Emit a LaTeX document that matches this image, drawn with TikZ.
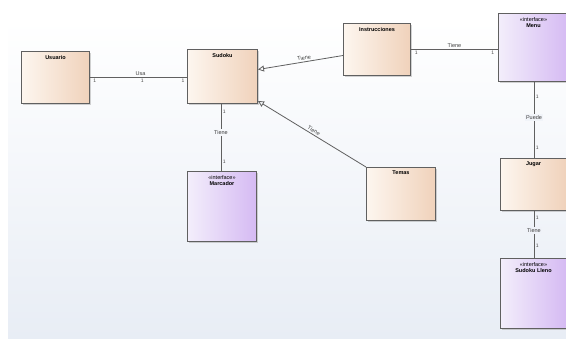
\documentclass[tikz,border=0pt]{standalone}
\usepackage{fontspec}
\setsansfont{Liberation Sans}
\usetikzlibrary{arrows.meta,shadows}
\definecolor{clasea}{HTML}{FDF6EF}
\definecolor{claseb}{HTML}{F0D2BB}
\definecolor{interfaza}{HTML}{F3EEFB}
\definecolor{interfazb}{HTML}{D5BAF3}
\definecolor{borde}{HTML}{606060}
\definecolor{fondo}{HTML}{E8EDF5}

\begin{document}
\begin{tikzpicture}[x=1pt, y=-1pt, font=\sffamily,
                    clase/.style={rectangle, anchor=north west, inner sep=0pt, draw=borde, line width=1pt, left color=clasea, right color=claseb, drop shadow={shadow xshift=1pt, shadow yshift=-1pt, fill=black!35}},
                    interfaz/.style={clase, left color=interfaza, right color=interfazb},
                    titulo/.style={anchor=north, yshift=-3pt, align=center, inner sep=1pt, font=\sffamily\fontsize{5.5}{6.2}\selectfont},
                    linea/.style={draw=borde, line width=0.8pt},
                    rotulo/.style={font=\sffamily\fontsize{5.5}{6}\selectfont, text=black!75, inner sep=1.5pt},
                    mult/.style={font=\sffamily\fontsize{5}{5.5}\selectfont, text=black!70, inner sep=1.5pt}]
        \useasboundingbox (0,0) rectangle (566,341);
        \fill[top color=white, bottom color=fondo] (8,20) rectangle (566,338);

        % clases
        \node (Usuario) [clase, minimum width=68, minimum height=52, label={[titulo]north:{\textbf{Usuario}}}] at (21,51) {};
        \node (Sudoku) [clase, minimum width=70, minimum height=54, label={[titulo]north:{\textbf{Sudoku}}}] at (187,49) {};
        \node (Instrucciones) [clase, minimum width=67, minimum height=52, label={[titulo]north:{\textbf{Instrucciones}}}] at (343,23) {};
        \node (Temas) [clase, minimum width=69, minimum height=53, label={[titulo]north:{\textbf{Temas}}}] at (366,167) {};
        \node (Jugar) [clase, minimum width=66, minimum height=52, label={[titulo]north:{\textbf{Jugar}}}] at (500,158) {};

        % interfaces
        \node (Marcador) [interfaz, minimum width=69, minimum height=70, label={[titulo]north:{«interface»\\\textbf{Marcador}}}] at (187,171) {};
        \node (Menu) [interfaz, minimum width=70, minimum height=68, label={[titulo]north:{«interface»\\\textbf{Menu}}}] at (498,13) {};
        \node (Lleno) [interfaz, minimum width=66, minimum height=70, label={[titulo]north:{«interface»\\\textbf{Sudoku Lleno}}}] at (500,258) {};

        % asociaciones
        \draw[linea] (Usuario.east) -- (Usuario.east -| Sudoku.west)
            node[rotulo, pos=0.52, above] {Usa}
            node[mult, pos=0.05, below] {1}
            node[mult, pos=0.54, below] {1}
            node[mult, pos=0.96, below] {1};
        \draw[linea] (Instrucciones.east) -- (Instrucciones.east -| Menu.west)
            node[rotulo, pos=0.5, above] {Tiene}
            node[mult, pos=0.06, below] {1}
            node[mult, pos=0.94, below] {1};
        \draw[linea, -{Triangle[open, length=6pt, width=6pt]}] ([yshift=-6pt]Instrucciones.west) -- ([yshift=7pt]Sudoku.east)
            node[rotulo, pos=0.45, above, sloped] {Tiene};
        \draw[linea, -{Triangle[open, length=6pt, width=6pt]}] (Temas.north west) -- ([yshift=3pt]Sudoku.south east)
            node[rotulo, pos=0.5, above, sloped] {Tiene};
        \draw[linea] (Sudoku.south -| 221,0) -- (Marcador.north -| 221,0)
            node[rotulo, pos=0.42, fill=fondo!40] {Tiene}
            node[mult, pos=0.12, right] {1}
            node[mult, pos=0.86, right] {1};
        \draw[linea] (Menu.south -| 534,0) -- (Jugar.north -| 534,0)
            node[rotulo, pos=0.47, fill=fondo!60] {Puede}
            node[mult, pos=0.2, right] {1}
            node[mult, pos=0.87, right] {1};
        \draw[linea] (Jugar.south -| 534,0) -- (Lleno.north -| 534,0)
            node[rotulo, pos=0.42, fill=fondo!70] {Tiene}
            node[mult, pos=0.15, right] {1}
            node[mult, pos=0.75, right] {1};
\end{tikzpicture}
\end{document}
